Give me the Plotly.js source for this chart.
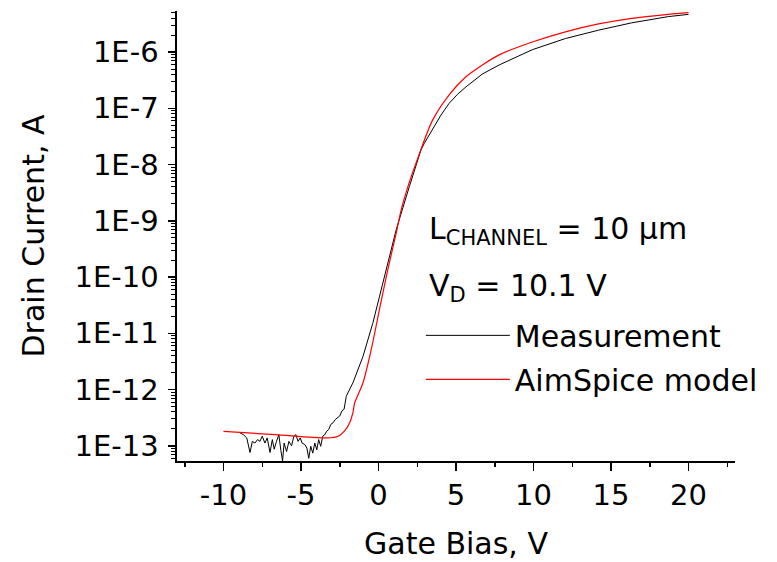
<!DOCTYPE html>
<html><head><meta charset="utf-8">
<script src="https://cdn.plot.ly/plotly-3.0.1.min.js"></script>
<style>html,body{margin:0;padding:0;background:#fff}</style>
</head><body>
<div id="chart" style="width:777px;height:562px"></div>
<script>
// Measurement (black)
const measVg = [-8.93,-8.72,-8.50,-8.29,-8.14,-7.97,-7.80,-7.65,-7.50,-7.33,-7.18,-7.00,-6.85,-6.73,-6.58,-6.43,-6.30,-6.19,-6.09,-5.93,-5.78,-5.61,-5.46,-5.33,-5.19,-5.05,-4.93,-4.75,-4.62,-4.50,-4.37,-4.24,-4.11,-3.98,-3.86,-3.73,-3.60,-3.47,-3.34,-3.21,-3.08,-2.93,-2.78,-2.61,-2.50,-2.36,-2.22,-2.08,-1.65,-1.00,-0.37,0.06,0.60,1.14,1.99,2.53,2.74,2.96,3.49,4.03,4.56,5.10,5.64,6.70,7.78,9.92,12.06,14.20,16.34,18.70,20.00];
const measId = [1.70e-13,1.58e-13,1.38e-13,7.6e-14,1.20e-13,1.12e-13,1.29e-13,1.20e-13,1.48e-13,1.12e-13,1.38e-13,7.6e-14,1.29e-13,8.7e-14,1.20e-13,1.58e-13,8.3e-14,5.4e-14,1.12e-13,7.9e-14,1.20e-13,1.0e-13,1.48e-13,1.58e-13,1.20e-13,1.38e-13,1.12e-13,1.05e-13,9.1e-14,6.0e-14,9.8e-14,7.4e-14,1.12e-13,8.5e-14,1.29e-13,9.8e-14,1.48e-13,1.58e-13,1.82e-13,1.95e-13,2.40e-13,2.57e-13,2.95e-13,3.16e-13,3.39e-13,4.17e-13,4.47e-13,7.59e-13,1.32e-12,3.89e-12,1.51e-11,4.47e-11,1.78e-10,6.92e-10,4.07e-9,1.29e-8,1.82e-8,2.40e-8,4.37e-8,7.59e-8,1.23e-7,1.78e-7,2.40e-7,4.07e-7,5.89e-7,1.10e-6,1.74e-6,2.45e-6,3.31e-6,4.27e-6,4.68e-6];
// AimSpice model (red)
const modelVg = [-10.0,-6.65,-3.30,-2.60,-2.20,-1.86,-1.65,-1.54,-1.00,-0.47,0.06,0.60,1.14,1.46,1.97,2.53,3.49,4.56,5.64,6.70,7.78,9.92,12.06,14.20,16.34,18.70,20.00];
const modelId = [1.80e-13,1.58e-13,1.38e-13,1.48e-13,1.82e-13,2.57e-13,3.89e-13,5.75e-13,1.32e-12,5.13e-12,2.63e-11,1.35e-10,6.03e-10,1.55e-9,4.68e-9,1.29e-8,6.17e-8,1.74e-7,3.63e-7,5.89e-7,8.91e-7,1.51e-6,2.29e-6,3.16e-6,3.98e-6,4.68e-6,5.01e-6];
// Axis ticks
const xTickVals = [-10,-5,0,5,10,15,20];
const xTickText = ['-10','-5','0','5','10','15','20'];
const yTickVals = [1e-13,1e-12,1e-11,1e-10,1e-9,1e-8,1e-7,1e-6];
const yTickText = ['1E-13','1E-12','1E-11','1E-10','1E-9','1E-8','1E-7','1E-6'];
const seriesNames = ['Measurement','AimSpice model'];

const FONT = 'DejaVu Sans, Arial, sans-serif';

const traces = [
  {x: measVg, y: measId, type:'scatter', mode:'lines', name: seriesNames[0],
   legendgroup:'a', line:{color:'#000000', width:1}},
  {x: modelVg, y: modelId, type:'scatter', mode:'lines', name: seriesNames[1],
   legendgroup:'b', line:{color:'#ff0000', width:1.2, shape:'spline', smoothing:0.8}}
];

const layout = {
  width: 777, height: 562,
  margin: {l:177, r:42, t:11, b:101, pad:0},
  paper_bgcolor:'#ffffff', plot_bgcolor:'#ffffff',
  font: {family: FONT, size: 29, color:'#000000'},
  showlegend: true,
  legend: {x: 0.437, xanchor:'left', y: 0.337, yanchor:'top',
    bgcolor:'rgba(0,0,0,0)', borderwidth:0, font:{family: FONT, size:30, color:'#000'},
    itemwidth: 84, tracegroupgap: 2, traceorder:'grouped'},
  xaxis: {
    range:[-13, 23], tickmode:'array', tickvals: xTickVals, ticktext: xTickText,
    ticks:'outside', ticklen:8, tickwidth:1.5, tickcolor:'#000',
    showline:true, linecolor:'#000', linewidth:1.6, showgrid:false, zeroline:false, mirror:false,
    minor:{ticks:'outside', ticklen:4, tickwidth:1.5, tick0:0, dtick:2.5, tickcolor:'#000', showgrid:false},
    tickfont:{family: FONT, size:29},
    title:{text:'Gate Bias, V', font:{family: FONT, size:30}, standoff: 21}
  },
  yaxis: {
    type:'log', range:[-13.27, -5.27], tickmode:'array', tickvals: yTickVals, ticktext: yTickText,
    ticks:'outside', ticklen:7, tickwidth:1.5, tickcolor:'#000', ticklabelstandoff: 4,
    showline:true, linecolor:'#000', linewidth:1.6, showgrid:false, zeroline:false, mirror:false,
    minor:{ticks:'outside', ticklen:4, tickwidth:1, dtick:'D1', tickcolor:'#000', showgrid:false},
    tickfont:{family: FONT, size:29},
    title:{text:'Drain Current, A', font:{family: FONT, size:30}, standoff: 21}
  },
  annotations: [
    {xref:'paper', yref:'paper', x:0.4475, y:0.513, xanchor:'left', yanchor:'middle', showarrow:false,
     text:'L<sub>CHANNEL</sub> = 10 μm', font:{family: FONT, size:30, color:'#000'}},
    {xref:'paper', yref:'paper', x:0.4475, y:0.3856, xanchor:'left', yanchor:'middle', showarrow:false,
     text:'V<sub>D</sub> = 10.1 V', font:{family: FONT, size:30, color:'#000'}}
  ]
};

Plotly.newPlot('chart', traces, layout, {displayModeBar:false, staticPlot:true});
</script>
</body></html>
